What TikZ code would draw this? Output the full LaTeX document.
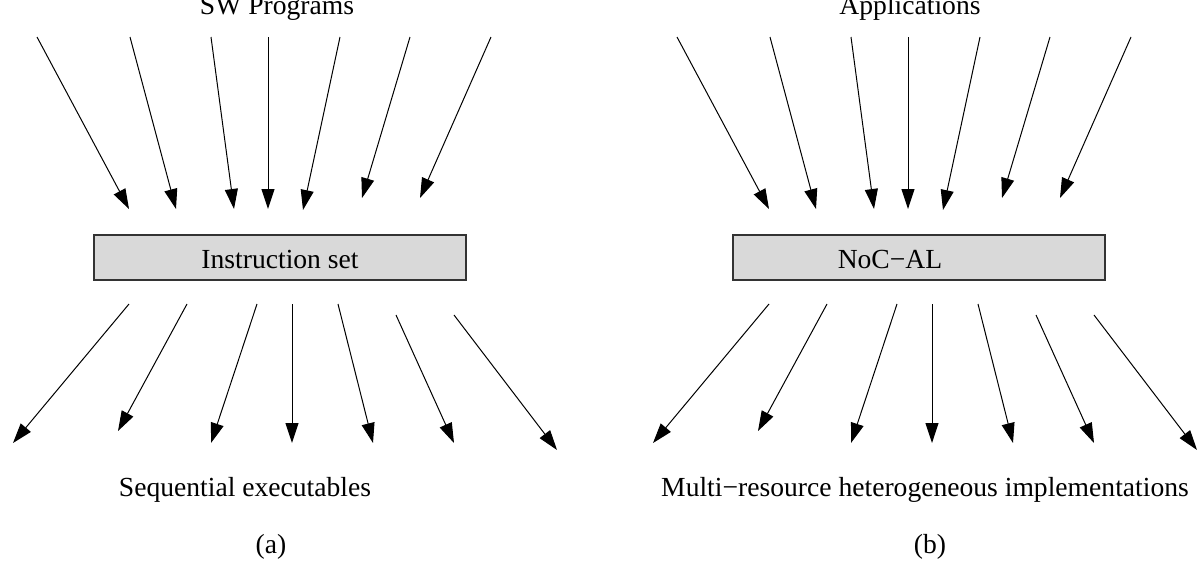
\documentclass[tikz,border=0pt]{standalone}
\usepackage{fontspec}
\setmainfont{Liberation Serif}
\usetikzlibrary{arrows.meta}
\tikzset{
  flow/.style={-{Triangle[length=10pt,width=6.5pt]}, line width=0.5pt},
  layer/.style={draw=black!80, fill=black!15, line width=0.7pt,
    minimum width=186pt, minimum height=22.5pt, inner sep=0pt},
  txt/.style={font=\fontsize{13.8}{16}\selectfont, inner sep=0pt, anchor=base}
}
\begin{document}
\begin{tikzpicture}[x=0.5pt,y=-0.5pt]
        \useasboundingbox (0,0) rectangle (1199,579);
        % layers
        \node[layer] (isa)   at (280,257.5) {};
        \node[layer] (nocal) at (919,257.5) {};
        % texts
        \node[txt] (swprog)   at (277,14)  {SW Programs};
        \node[txt] (isatxt)   at (280,268) {Instruction set};
        \node[txt] (seqexe)   at (245,496) {Sequential executables};
        \node[txt] (capa)     at (271,553) {(a)};
        \node[txt] (apps)     at (910,14)  {Applications};
        \node[txt] (nocaltxt) at (890,268) {NoC−AL};
        \node[txt] (multi)    at (925,496) {Multi−resource heterogeneous implementations};
        \node[txt] (capb)     at (930,553) {(b)};
        % arrows in, arrows out
        \foreach \p/\dx in {a/0, b/640} {
          \foreach \i/\xs/\xe/\ye in {1/37/129/209, 2/130/176/209, 3/211/234/209,
                4/268/268/209, 5/340/303/210, 6/410/362/198, 7/491/420/198} {
            \coordinate (\p in\i)  at (\xs+\dx,37);
            \coordinate (\p tip\i) at (\xe+\dx,\ye);
            \draw[flow] (\p in\i) -- (\p tip\i);
          }
          \foreach \i/\xs/\ys/\xe/\ye in {1/129/304/13/443, 2/187/304/118/431,
                3/257/304/211/443, 4/292/304/292/443, 5/338/304/373/443,
                6/396/315/454/443, 7/454/315/557/450} {
            \coordinate (\p out\i) at (\xs+\dx,\ys);
            \coordinate (\p end\i) at (\xe+\dx,\ye);
            \draw[flow] (\p out\i) -- (\p end\i);
          }
        }
\end{tikzpicture}
\end{document}
